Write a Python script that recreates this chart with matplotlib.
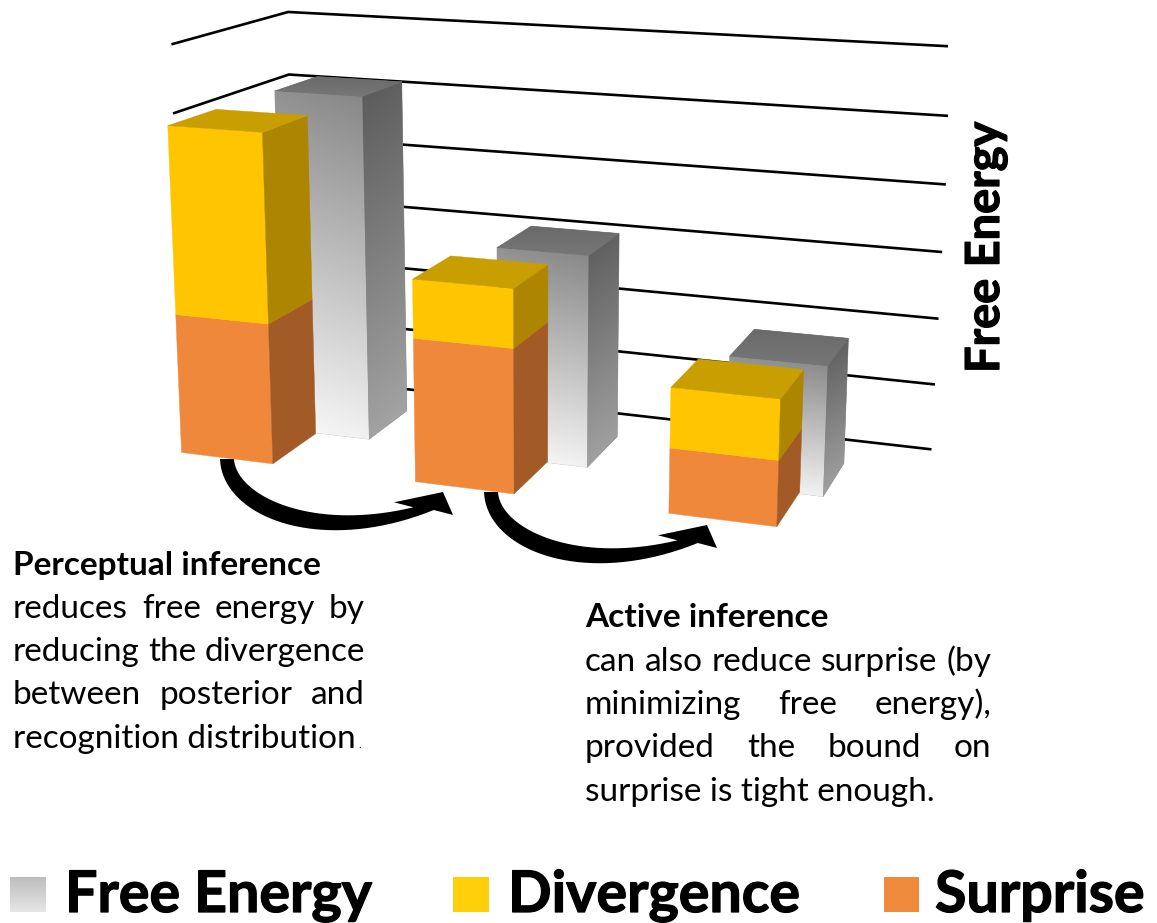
import numpy as np
import matplotlib
matplotlib.use('Agg')
import matplotlib.pyplot as plt
import matplotlib.patheffects as pe
from matplotlib.colors import LinearSegmentedColormap
from matplotlib.patches import Polygon, Rectangle

plt.rcParams['font.family'] = ['Lato', 'DejaVu Sans']

W, H = 1157, 923

# in grid steps
free_energy = [5.175, 3.139, 1.889]
surprise = [2.092, 2.101, 0.932]
divergence = [2.760, 0.847, 0.852]
grid_levels = [0, 1, 2, 3, 4, 5, 6]
side_levels = [5, 6]

# cameras and bar layout, world = (x along groups, y into the picture, z value)
CAMERA = np.array([[218.591, 55.8612, -4.13257, 181.555],
                   [11.4654, -10.9687, -68.3226, 452.433],
                   [-0.0367827, 0.0432584, -0.0077186, 1.0]])
WALL_CAMERA = np.array([[216.66, 55.1415, -2.67639, 174.815],
                        [11.3565, -11.559, -67.4485, 448.912],
                        [-0.0394068, 0.0406104, -0.00664826, 1.0]])
GROUP_X = [0.0, 1.0, 2.00378]
FRONT_W = [0.39919, 0.40016, 0.40459]
FRONT_D = [1.0, 0.990045, 0.980143]
BACK_W = [0.375911, 0.371264, 0.373199]
BACK_D = [1.00738, 1.01099, 1.01371]
BACK_SHIFT = [0.255737, 0.195596, 0.125127]
BACK_Y = [1.02399, 0.962107, 0.932434]
WALL_X0, WALL_X1 = -0.000427, 2.7955
WALL_Y, SIDE_Y = 2.71585, 0.148799

YELLOW = ('#FFC600', '#AD8500', '#C99E00')
ORANGE = ('#F0883B', '#A25B26', '#A25B26')


def project(x, y, z, cam=CAMERA):
    h = cam @ np.array([x, y, z, 1.0])
    return h[0] / h[2], h[1] / h[2]


def faces(x, y, w, d, z0, z1):
    a = [project(x, y, z0), project(x + w, y, z0), project(x + w, y, z1), project(x, y, z1)]
    b = [project(x + w, y, z0), project(x + w, y + d, z0), project(x + w, y + d, z1), project(x + w, y, z1)]
    c = [project(x, y, z1), project(x + w, y, z1), project(x + w, y + d, z1), project(x, y + d, z1)]
    return a, b, c


def gradQuad(ax, quad, c0, c1, tilt=0.0, z=3):
    # vertical gradient clipped to a four sided face
    quad = np.array(quad)
    x0, y0 = quad.min(axis=0)
    x1, y1 = quad.max(axis=0)
    v, u = np.mgrid[0:1:64j, 0:1:64j]
    t = (1 - abs(tilt)) * v + (tilt * u if tilt > 0 else -tilt * (1 - u))
    cmap = LinearSegmentedColormap.from_list('g', [c0, c1])
    im = ax.imshow(t, extent=(x0, x1, y1, y0), cmap=cmap, vmin=0, vmax=1,
                   aspect='auto', zorder=z, interpolation='bilinear')
    clip = Polygon(quad, closed=True, transform=ax.transData, fc='none', ec='none')
    ax.add_patch(clip)
    im.set_clip_path(clip)


def drawBlock(ax, i, z0, z1, colors, top=True):
    a, b, c = faces(GROUP_X[i], 0, FRONT_W[i], FRONT_D[i], z0, z1)
    ax.add_patch(Polygon(a, closed=True, fc=colors[0], ec=colors[0], lw=0.3, zorder=4))
    ax.add_patch(Polygon(b, closed=True, fc=colors[1], ec=colors[1], lw=0.3, zorder=4))
    if top:
        ax.add_patch(Polygon(c, closed=True, fc=colors[2], ec=colors[2], lw=0.3, zorder=4))


def drawGray(ax, i):
    a, b, c = faces(GROUP_X[i] + BACK_SHIFT[i], BACK_Y[i], BACK_W[i], BACK_D[i], 0, free_energy[i])
    # backing so the grid does not show through the seams between faces
    for quad, col in ((a, '#C4C4C4'), (b, '#8A8A8A'), (c, '#707070')):
        ax.add_patch(Polygon(quad, closed=True, fc=col, ec=col, lw=0.4, zorder=2.9))
    gradQuad(ax, a, '#868686', '#FCFCFC', tilt=-0.1)
    gradQuad(ax, b, '#5A5A5A', '#A8A8A8', tilt=0.1)
    gradQuad(ax, c, '#6A6A6A', '#777777')


def bezier(p0, p1, p2, p3, n=40):
    t = np.linspace(0, 1, n)[:, None]
    p0, p1, p2, p3 = [np.array(q, dtype=float) for q in (p0, p1, p2, p3)]
    return (1 - t)**3 * p0 + 3 * (1 - t)**2 * t * p1 + 3 * (1 - t) * t**2 * p2 + t**3 * p3


def drawArrow(ax, dx, dy):
    outer = bezier((220, 459), (222, 517), (320, 556), (433.8, 510))
    inner = bezier((413.4, 507.3), (310, 532), (236, 495), (234, 459))
    head = np.array([(453, 515), (443, 492), (394, 502.3)])
    pts = np.vstack([outer, head, inner]) + (dx, dy)
    ax.add_patch(Polygon(pts, closed=True, fc='black', ec='none', zorder=2))


def justLine(ax, words, x0, x1, y, size, fig):
    # spread the words so the line fills x0..x1
    r = fig.canvas.get_renderer()
    arts = [ax.text(0, y, w, fontsize=size, va='baseline', ha='left', color='black') for w in words]
    widths = [a.get_window_extent(r).width for a in arts]
    gap = (x1 - x0 - sum(widths)) / (len(words) - 1)
    x = x0
    for a, w in zip(arts, widths):
        a.set_x(x)
        x += w + gap


fig = plt.figure(figsize=(W / 100, H / 100), dpi=100)
ax = fig.add_axes([0, 0, 1, 1])
ax.set_xlim(0, W)
ax.set_ylim(H, 0)
ax.autoscale(False)
ax.axis('off')

# walls
clip_box = Rectangle((0, 0), 948, H, transform=ax.transData)
for k in grid_levels:
    pts = [project(WALL_X0, WALL_Y, k, WALL_CAMERA), project(WALL_X1, WALL_Y, k, WALL_CAMERA)]
    if k in side_levels:
        pts.insert(0, project(WALL_X0, SIDE_Y, k, WALL_CAMERA))
    ln, = ax.plot(*zip(*pts), color='black', lw=1.9, zorder=1, solid_joinstyle='miter')
    ln.set_clip_path(clip_box)

# bars
for i in range(3):
    drawGray(ax, i)
for i in range(3):
    drawBlock(ax, i, 0, surprise[i], ORANGE, top=False)
    drawBlock(ax, i, surprise[i], surprise[i] + divergence[i], YELLOW)

drawArrow(ax, 0, 0)
drawArrow(ax, 264, 33)

heavy = [pe.withStroke(linewidth=0.9, foreground='black')]

# rotated axis name
ax.text(999, 373, 'Free Energy', rotation=90, rotation_mode='anchor', ha='left', va='baseline',
        fontsize=33.8, fontweight='bold', path_effects=heavy)

# notes
body = 24
ax.text(13, 575, 'Perceptual inference', fontsize=body, fontweight='bold', va='baseline')
justLine(ax, ['reduces', 'free', 'energy', 'by'], 13, 365, 618, body, fig)
justLine(ax, ['reducing', 'the', 'divergence'], 13, 365, 661, body, fig)
justLine(ax, ['between', 'posterior', 'and'], 13, 365, 704, body, fig)
ax.text(13, 748, 'recognition distribution', fontsize=body, va='baseline')
ax.text(358, 748, '.', fontsize=8, va='baseline')

ax.text(585, 627, 'Active inference', fontsize=body, fontweight='bold', va='baseline')
justLine(ax, ['can', 'also', 'reduce', 'surprise', '(by'], 585, 991, 671, body, fig)
justLine(ax, ['minimizing', 'free', 'energy),'], 585, 991, 714, body, fig)
justLine(ax, ['provided', 'the', 'bound', 'on'], 585, 991, 757, body, fig)
ax.text(585, 801, 'surprise is tight enough.', fontsize=body, va='baseline')

# legend
gradQuad(ax, [(10, 877), (46, 877), (46, 912), (10, 912)], '#BDBDBD', '#E6E6E6')
ax.add_patch(Rectangle((453, 877), 36, 35, fc='#FFD00A', ec='none'))
ax.add_patch(Rectangle((884, 877), 35, 35, fc='#EF8A3C', ec='none'))
ax.text(65, 912, 'Free Energy', fontsize=41.3, fontweight='bold', va='baseline', path_effects=heavy)
ax.text(508, 912, 'Divergence', fontsize=41.3, fontweight='bold', va='baseline', path_effects=heavy)
ax.text(935, 912, 'Surprise', fontsize=41.3, fontweight='bold', va='baseline', path_effects=heavy)

fig.savefig('out.png', dpi=100)
